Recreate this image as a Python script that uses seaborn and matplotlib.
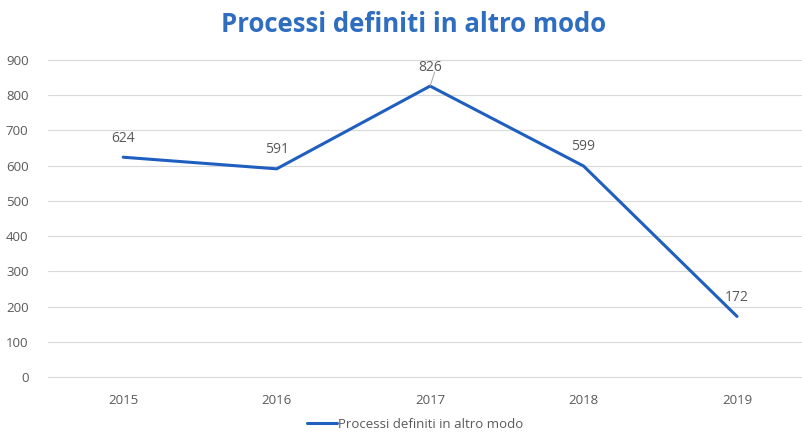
import matplotlib
matplotlib.use("Agg")
import matplotlib.pyplot as plt
import seaborn as sns
import pandas as pd

years = ["2015", "2016", "2017", "2018", "2019"]
values = [624, 591, 826, 599, 172]
series_name = "Processi definiti in altro modo"
title = "Processi definiti in altro modo"

sns.set_theme(style="white")
plt.rcParams['font.family'] = ['Open Sans', 'DejaVu Sans']

df = pd.DataFrame({"year": range(len(years)), "value": values})

fig = plt.figure(figsize=(8.03, 4.32), dpi=100)
ax = fig.add_axes([48/803, (432-377)/432, (803-48)/803, 317/432])

line_color = "#1F5FBF"
sns.lineplot(data=df, x="year", y="value", ax=ax, color=line_color, linewidth=2.2,
             label=series_name, legend=False)

ax.set_xlim(-0.49, 4.43)
ax.set_ylim(0, 900)
ax.set_yticks(range(0, 901, 100))
ax.set_xticks(range(len(years)))
ax.set_xticklabels(years)
ax.yaxis.grid(True, color="#D9D9D9", linewidth=0.8)
for gl in ax.yaxis.get_gridlines():
    gl.set_clip_on(False)
ax.xaxis.grid(False)
ax.set_axisbelow(True)
for s in ax.spines.values():
    s.set_visible(False)
ax.tick_params(axis="both", colors="#595959", labelsize=9.5, length=0)
ax.tick_params(axis="x", pad=12)
ax.tick_params(axis="y", pad=14)
for lab in ax.get_yticklabels() + ax.get_xticklabels():
    lab.set_color("#595959")
ax.set_xlabel("")
ax.set_ylabel("")

# data labels
for i, v in enumerate(values):
    ax.annotate(str(v), (i, v), xytext=(0, 13.7), textcoords="offset points",
                ha="center", va="center", fontsize=10, color="#595959")
# leader line for 826
ax.annotate("", xy=(2, values[2]), xytext=(2.03, values[2] + 40),
            arrowprops=dict(arrowstyle="-", color="#A6A6A6", lw=0.7, shrinkA=0, shrinkB=0))

fig.text(414/803, 1 - 24/432, title, ha="center", va="center",
         fontsize=18.5, fontweight="bold", color="#2E6DBF")

leg = fig.legend(handles=ax.get_lines()[:1], labels=[series_name],
                 loc="center", bbox_to_anchor=(415/803, 1 - 424/432),
                 frameon=False, fontsize=9.5, handlelength=2.3, handletextpad=0.1)
for t in leg.get_texts():
    t.set_color("#595959")

fig.savefig("out.png", dpi=100)
